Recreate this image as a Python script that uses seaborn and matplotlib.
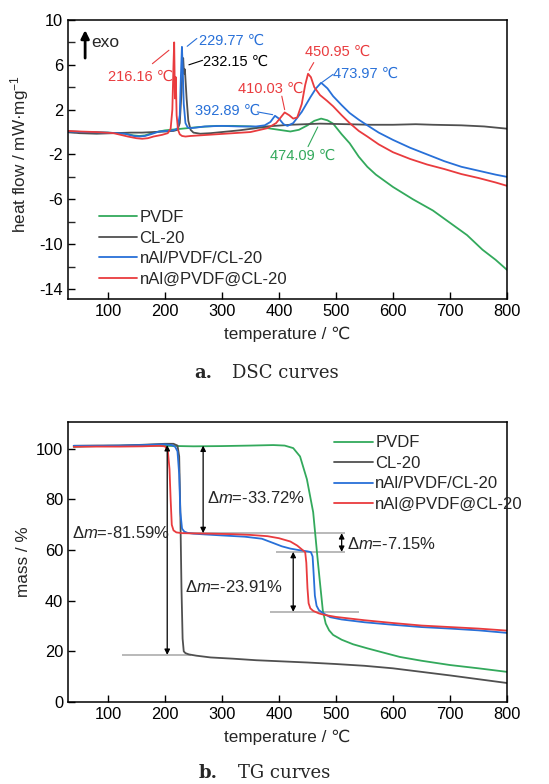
import matplotlib
matplotlib.use('Agg')
import matplotlib.pyplot as plt
from matplotlib.lines import Line2D
import pandas as pd
import seaborn as sns

# ---------------- data ----------------
series = ['PVDF', 'CL-20', 'nAl/PVDF/CL-20', 'nAl@PVDF@CL-20']
colors = ['#33a95c', '#505050', '#2870d8', '#e93b3e']

# DSC (heat flow, mW/mg)
dsc_pvdf_t = [30, 60, 100, 130, 145, 155, 165, 180, 200, 230, 260, 290, 320, 350, 380, 400, 420, 435,
              450, 462, 474, 485, 495, 510, 524, 540, 555, 570, 600, 635, 670, 700, 730, 757, 780, 800]
dsc_pvdf_v = [0.05, 0.0, -0.05, -0.15, -0.3, -0.35, -0.3, -0.05, 0.15, 0.3, 0.45, 0.55, 0.55, 0.5, 0.35,
              0.2, 0.05, 0.2, 0.6, 1.0, 1.2, 1.05, 0.75, -0.2, -1.0, -2.2, -3.1, -3.8, -4.9, -6.0, -7.0,
              -8.1, -9.2, -10.5, -11.4, -12.3]

dsc_cl20_t = [30, 50, 80, 110, 140, 160, 180, 200, 215, 222, 226, 229, 231, 232, 233.5, 235, 238, 241,
              245, 250, 262, 280, 300, 330, 360, 378, 420, 472, 520, 560, 600, 640, 670, 720, 760, 800]
dsc_cl20_v = [0.0, -0.1, -0.15, -0.1, -0.05, -0.05, 0.0, 0.05, 0.1, 0.2, 0.8, 3.5, 5.8, 6.6, 5.2, 5.6,
              3.0, 1.0, 0.2, -0.05, -0.15, -0.1, 0.0, 0.15, 0.35, 0.5, 0.65, 0.75, 0.7, 0.65, 0.65, 0.7,
              0.65, 0.6, 0.5, 0.3]

dsc_blend_t = [30, 60, 100, 130, 145, 155, 165, 175, 190, 205, 215, 222, 226, 228, 229.8, 231, 233, 236,
               240, 245, 255, 270, 300, 330, 360, 375, 385, 393, 400, 408, 415, 425, 440, 455, 465, 474,
               485, 495, 510, 524, 540, 555, 575, 600, 630, 660, 690, 720, 750, 780, 800]
dsc_blend_v = [0.05, 0.0, -0.05, -0.15, -0.35, -0.4, -0.35, -0.2, 0.05, 0.1, 0.15, 0.3, 1.5, 5.0, 7.6,
               6.0, 2.5, 0.8, 0.4, 0.35, 0.4, 0.5, 0.55, 0.5, 0.5, 0.6, 0.9, 1.45, 1.2, 0.7, 0.55, 0.8,
               1.8, 3.1, 3.9, 4.4, 3.9, 3.2, 2.4, 1.7, 1.1, 0.6, -0.05, -0.7, -1.4, -2.0, -2.6, -3.1,
               -3.45, -3.8, -4.0]

dsc_core_t = [30, 50, 80, 110, 135, 150, 160, 170, 180, 195, 205, 210, 213, 215, 216.2, 217.5, 219,
              220.5, 223, 226, 230, 236, 245, 260, 290, 320, 350, 380, 395, 403, 410, 418, 425, 432,
              440, 446, 451, 456, 462, 472, 484, 495, 510, 524, 540, 555, 575, 600, 630, 660, 690, 720,
              750, 780, 800]
dsc_core_v = [0.1, 0.05, 0.0, -0.1, -0.4, -0.55, -0.6, -0.55, -0.4, -0.25, -0.1, 0.3, 2.0, 6.0, 8.0,
              3.0, 4.9, 1.5, 0.2, -0.2, -0.35, -0.4, -0.35, -0.3, -0.2, -0.1, 0.0, 0.35, 0.8, 1.3, 1.75,
              1.5, 1.2, 1.3, 2.5, 4.2, 5.2, 4.9, 4.0, 3.3, 2.8, 2.3, 1.5, 0.8, 0.1, -0.4, -1.1, -1.8,
              -2.4, -2.9, -3.3, -3.75, -4.1, -4.5, -4.8]

# TG (mass, %)
tg_pvdf_t = [40, 60, 100, 150, 200, 250, 300, 350, 390, 410, 425, 437, 449, 460, 468, 472, 477, 482,
             488, 495, 510, 530, 555, 580, 612, 650, 700, 750, 800]
tg_pvdf_m = [100.8, 101.0, 101.2, 101.3, 101.2, 101.0, 101.1, 101.3, 101.5, 101.3, 100.3, 97, 88, 75,
             56, 47, 36, 31, 28.3, 26.5, 24.6, 22.8, 21.2, 19.7, 17.8, 16.3, 14.6, 13.3, 11.9]

tg_cl20_t = [40, 80, 120, 160, 200, 215, 222, 225, 227, 229, 231, 233, 236, 242, 255, 280, 320, 360,
             400, 450, 500, 550, 600, 650, 700, 750, 800]
tg_cl20_m = [101.2, 101.3, 101.3, 101.6, 102.0, 102.0, 101.3, 97, 75, 45, 25, 20, 19.3, 18.8, 18.3,
             17.6, 17.1, 16.5, 16.1, 15.6, 15.0, 14.3, 13.3, 11.9, 10.5, 9.0, 7.5]

tg_blend_t = [40, 80, 120, 160, 200, 212, 218, 222, 225, 227, 230, 234, 240, 250, 270, 300, 340, 370,
              390, 405, 420, 435, 450, 456, 459, 461, 463, 466, 470, 478, 490, 510, 550, 600, 650, 700,
              750, 800]
tg_blend_m = [101.2, 101.2, 101.3, 101.5, 101.8, 101.5, 100.8, 99, 90, 75, 68.5, 67.3, 66.8, 66.5, 66.2,
              65.8, 65.3, 64.5, 62.8, 61.5, 60.6, 60.0, 59.5, 59.2, 57.5, 50, 42, 38, 36.3, 35.0, 33.5,
              32.6, 31.5, 30.5, 29.6, 29.0, 28.3, 27.3]

tg_core_t = [40, 80, 120, 160, 190, 200, 205, 208, 210, 212, 215, 220, 230, 250, 280, 320, 350, 380,
             400, 420, 432, 440, 446, 448, 450, 452, 455, 460, 470, 480, 500, 550, 600, 650, 700, 750, 800]
tg_core_m = [100.8, 100.9, 100.9, 101.0, 101.2, 101.0, 99.5, 92, 80, 70, 67.8, 67.0, 66.7, 66.6, 66.5,
             66.3, 66.0, 65.5, 64.7, 63.4, 61.8, 60.3, 59.2, 55, 45, 39, 37.0, 36.0, 35.0, 34.4, 33.6,
             32.3, 31.2, 30.2, 29.6, 29.0, 28.2]

# peak labels (DSC): text, colour index, text position, leader start, leader end
dsc_labels = ['216.16 ℃', '229.77 ℃', '232.15 ℃', '450.95 ℃', '473.97 ℃', '410.03 ℃', '392.89 ℃',
              '474.09 ℃']
dsc_label_color = [3, 2, 1, 3, 2, 3, 2, 0]
dsc_label_pos = [(100, 4.95), (260, 8.1), (267, 6.3), (446, 7.2), (495, 5.2), (328, 3.9), (253, 1.9),
                 (384, -2.1)]
dsc_leader = [((178, 6.1), (207, 7.3)), ((239, 7.65), (256, 8.35)), ((242, 6.0), (266, 6.4)),
              ((453, 5.5), (461, 6.2)), ((476, 4.45), (495, 5.15)), ((410, 2.0), (405, 3.2)),
              ((362, 1.8), (389, 1.55)), ((451, -1.3), (468, 0.45))]

# TG mass-loss annotations
tg_ref_levels = [66.7, 59.3, 35.6, 18.6]
tg_ref_span = [(232, 515), (395, 515), (385, 540), (125, 245)]
tg_arrows = [(204, 101.5, 18.6), (267, 101.3, 66.7), (510, 66.7, 59.3), (425, 59.3, 35.6)]
tg_texts = ['Δ$m$=-81.59%', 'Δ$m$=-33.72%', 'Δ$m$=-7.15%', 'Δ$m$=-23.91%']
tg_text_pos = [(37, 66.8), (274, 80.6), (520, 62.3), (235, 45.5)]

# ---------------- style ----------------
sns.set_style('ticks')
plt.rcParams['font.family'] = ['Liberation Sans', 'DejaVu Sans']
plt.rcParams['mathtext.fontset'] = 'custom'
plt.rcParams['mathtext.rm'] = 'Liberation Sans'
plt.rcParams['mathtext.it'] = 'Liberation Sans:italic'
plt.rcParams['axes.unicode_minus'] = False

palette = dict(zip(series, colors))


def long_df(ts, vs, col):
    frames = []
    for name, t, v in zip(series, ts, vs):
        frames.append(pd.DataFrame({'T': t, col: v, 'sample': name}))
    return pd.concat(frames, ignore_index=True)


dsc = long_df([dsc_pvdf_t, dsc_cl20_t, dsc_blend_t, dsc_core_t],
              [dsc_pvdf_v, dsc_cl20_v, dsc_blend_v, dsc_core_v], 'V')
tg = long_df([tg_pvdf_t, tg_cl20_t, tg_blend_t, tg_core_t],
             [tg_pvdf_m, tg_cl20_m, tg_blend_m, tg_core_m], 'm')

fig = plt.figure(figsize=(5.49, 7.84), dpi=100)
ax1 = fig.add_axes([0.1239, 0.6186, 0.7996, 0.3559])
ax2 = fig.add_axes([0.1239, 0.1046, 0.7996, 0.3571])

for ax, df, col in [(ax1, dsc, 'V'), (ax2, tg, 'm')]:
    sns.lineplot(data=df, x='T', y=col, hue='sample', hue_order=series, palette=palette,
                 estimator=None, sort=False, lw=1.3, legend=False, ax=ax)
    ax.set_xlim(30, 800)
    ax.set_xticks(range(100, 801, 100))
    ax.tick_params(direction='in', length=5, width=1, top=False, right=False,
                   labelsize=11.8, pad=3.5, colors='black')
    ax.tick_params(which='minor', direction='in', length=5, width=1)
    for s in ax.spines.values():
        s.set_visible(True)
        s.set_linewidth(1.1)
        s.set_color('black')
    ax.set_xlabel('temperature / ℃', fontsize=12.3)
    ax.xaxis.set_label_coords(0.5, -0.1)
    ax.xaxis.label.set_va('top')

# DSC axes
ax1.set_ylim(-14.9, 10)
ax1.set_yticks([10, 6, 2, -2, -6, -10, -14])
ax1.set_yticks([8, 4, 0, -4, -8, -12], minor=True)
ax1.set_ylabel('heat flow / mW·mg$^{-1}$', fontsize=12.3)
ax1.yaxis.set_label_coords(-0.085, 0.52)

handles = [Line2D([0], [0], color=c, lw=1.3) for c in colors]
leg_kw = dict(loc='upper left', frameon=False, fontsize=12, handlelength=2.3, handletextpad=0.15,
              labelspacing=0.33, borderpad=0, borderaxespad=0)
ax1.legend(handles, series, bbox_to_anchor=(0.07, 0.318), **leg_kw)

ax1.annotate('', xy=(60, 9.1), xytext=(60, 6.6),
             arrowprops=dict(arrowstyle='-|>', color='black', lw=2, mutation_scale=12,
                             shrinkA=0, shrinkB=0))
ax1.text(70, 8.0, 'exo', fontsize=12.5, ha='left', va='center')

for txt, ci, pos, (p0, p1) in zip(dsc_labels, dsc_label_color, dsc_label_pos, dsc_leader):
    c = 'black' if ci == 1 else colors[ci]
    ax1.text(pos[0], pos[1], txt, color=c, fontsize=10.5, ha='left', va='center')
    ax1.plot([p0[0], p1[0]], [p0[1], p1[1]], color=c, lw=0.8)

# TG axes
ax2.set_ylim(0, 110.6)
ax2.set_yticks([0, 20, 40, 60, 80, 100])
ax2.set_ylabel('mass / %', fontsize=12.3)
ax2.yaxis.set_label_coords(-0.085, 0.5)
ax2.legend(handles, series, bbox_to_anchor=(0.607, 0.952), **leg_kw)

for lvl, (t0, t1) in zip(tg_ref_levels, tg_ref_span):
    ax2.hlines(lvl, t0, t1, color='#b3b3b3', lw=1.3, zorder=1)
for t, m0, m1 in tg_arrows:
    ax2.annotate('', xy=(t, m1), xytext=(t, m0),
                 arrowprops=dict(arrowstyle='<|-|>', color='black', lw=0.9, mutation_scale=8,
                                 shrinkA=0, shrinkB=0))
for txt, (t, m) in zip(tg_texts, tg_text_pos):
    ax2.text(t, m, txt, fontsize=12, ha='left', va='center')

# captions
serif = ['DejaVu Serif']
fig.text(212 / 549, 1 - 373 / 784, 'a.', fontsize=13, fontweight='bold', ha='right', va='center',
         family=serif)
fig.text(232 / 549, 1 - 373 / 784, 'DSC curves', fontsize=13, ha='left', va='center', family=serif)
fig.text(218 / 549, 1 - 773 / 784, 'b.', fontsize=13, fontweight='bold', ha='right', va='center',
         family=serif)
fig.text(238 / 549, 1 - 773 / 784, 'TG curves', fontsize=13, ha='left', va='center', family=serif)

fig.savefig('out.png', dpi=100)
